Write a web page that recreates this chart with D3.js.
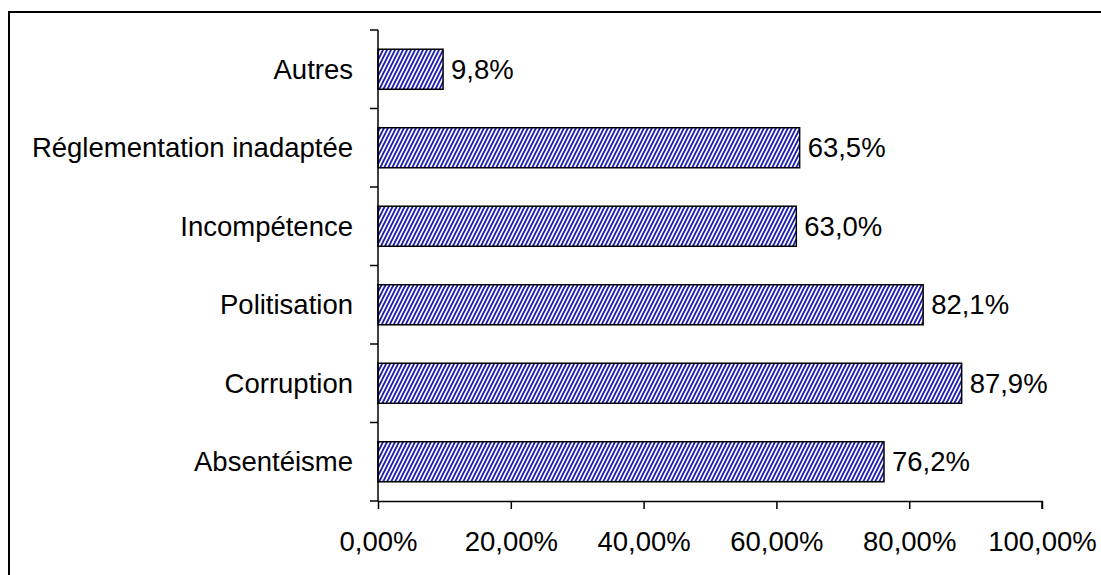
<!DOCTYPE html>
<html><head><meta charset="utf-8">
<script src="https://cdn.jsdelivr.net/npm/d3@7"></script>
<style>body{margin:0;background:#fff;}svg{display:block;font-family:"Liberation Sans",Arial,sans-serif;}</style>
</head><body>
<svg id="c" width="1101" height="575"></svg>
<script>
const categories = ["Autres","Réglementation inadaptée","Incompétence","Politisation","Corruption","Absentéisme"];
const values = [9.8, 63.5, 63.0, 82.1, 87.9, 76.2];
const valueLabels = ["9,8%","63,5%","63,0%","82,1%","87,9%","76,2%"];
const xTicks = [0,20,40,60,80,100];
const xTickLabels = ["0,00%","20,00%","40,00%","60,00%","80,00%","100,00%"];

const FS = 27.5;
const svg = d3.select("#c");
const defs = svg.append("defs");
const pat = defs.append("pattern").attr("id","hatch").attr("patternUnits","userSpaceOnUse")
  .attr("width",4).attr("height",8);
pat.append("rect").attr("width",4).attr("height",8).attr("fill","#fff");
pat.append("path").attr("d","M-2,12 L6,-4 M-6,12 L2,-4 M2,12 L10,-4").attr("stroke","#1c1caa").attr("stroke-width",1.9);

// outer frame
svg.append("rect").attr("x",9).attr("y",12).attr("width",1100).attr("height",570)
  .attr("fill","none").attr("stroke","#000").attr("stroke-width",2);

const pL = 378, pR = 1042, pT = 30, pB = 501;
const x = d3.scaleLinear().domain([0,100]).range([pL,pR]);
const y = d3.scaleBand().domain(categories).range([pT,pB]).paddingInner(0.49).paddingOuter(0.245);

// bars
svg.selectAll("rect.bar").data(values).join("rect").attr("class","bar")
  .attr("x",x(0)).attr("y",(d,i)=>y(categories[i]))
  .attr("width",d=>x(d)-x(0)).attr("height",y.bandwidth())
  .attr("fill","url(#hatch)").attr("stroke","#000").attr("stroke-width",1.5);

// value labels
svg.selectAll("text.val").data(values).join("text").attr("class","val")
  .attr("x",d=>x(d)+8).attr("y",(d,i)=>y(categories[i])+y.bandwidth()/2)
  .attr("dy","0.35em").attr("font-size",FS).attr("fill","#000")
  .text((d,i)=>valueLabels[i]);

// x axis
const xAxis = d3.axisBottom(x).tickValues(xTicks).tickSize(8).tickPadding(22)
  .tickFormat((d,i)=>xTickLabels[i]);
const gx = svg.append("g").attr("transform",`translate(0,${pB})`).call(xAxis);
gx.select(".domain").attr("stroke","#000").attr("stroke-width",1.5).attr("d",`M${pL},0.5H${pR}V8`);
gx.selectAll(".tick line").attr("stroke","#000").attr("stroke-width",1.5);
gx.selectAll(".tick text").attr("font-size",FS).attr("fill","#000").attr("font-family","Liberation Sans, Arial, sans-serif");

// y axis
const yb = d3.scaleLinear().domain([0,6]).range([pT,pB]);
svg.append("line").attr("x1",pL).attr("x2",pL).attr("y1",pT).attr("y2",pB).attr("stroke","#000").attr("stroke-width",1.5);
svg.selectAll("line.ytick").data(d3.range(0,7)).join("line").attr("class","ytick")
  .attr("x1",pL-8).attr("x2",pL).attr("y1",d=>yb(d)).attr("y2",d=>yb(d))
  .attr("stroke","#000").attr("stroke-width",1.5);
svg.selectAll("text.cat").data(categories).join("text").attr("class","cat")
  .attr("x",353).attr("y",d=>y(d)+y.bandwidth()/2).attr("dy","0.35em")
  .attr("text-anchor","end").attr("font-size",FS).attr("fill","#000").text(d=>d);
</script>
</body></html>
